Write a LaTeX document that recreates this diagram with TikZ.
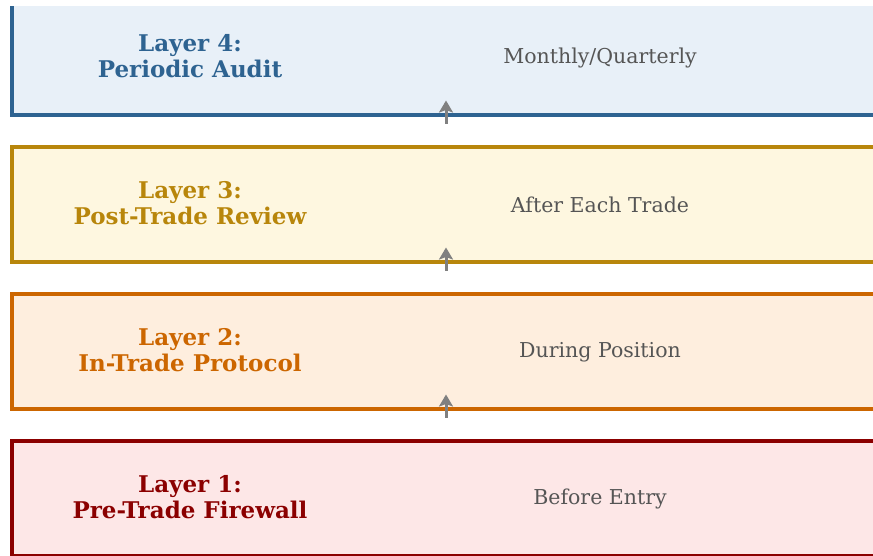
\documentclass[tikz,border=0pt]{standalone}
\usepackage{fontspec}
\setmainfont{DejaVu Serif}
\usetikzlibrary{arrows.meta}
\definecolor{c4b}{HTML}{2E6391}
\definecolor{c4f}{HTML}{E8F0F8}
\definecolor{c3b}{HTML}{B8860B}
\definecolor{c3f}{HTML}{FEF7E0}
\definecolor{c2b}{HTML}{CC6600}
\definecolor{c2f}{HTML}{FEEEDE}
\definecolor{c1b}{HTML}{8B0000}
\definecolor{c1f}{HTML}{FDE7E7}
\definecolor{subc}{HTML}{555555}
\definecolor{arrc}{HTML}{808080}
\tikzset{
  layerbox/.style={draw=#1b, fill=#1f, line width=4pt},
  title/.style={font=\bfseries\fontsize{23}{26}\selectfont, text=#1, align=center, inner sep=0pt},
  sub/.style={font=\fontsize{20.5}{24}\selectfont, text=subc, inner sep=0pt},
  uparrow/.style={draw=arrc, line width=3pt, -{Stealth[length=12pt,width=14pt,inset=2.5pt]}}
}
\begin{document}
\begin{tikzpicture}[x=1pt,y=-1pt]
\useasboundingbox (0,0) rectangle (873,555);
\begin{scope}
\clip (0,6) rectangle (873,555);
\path[layerbox=c4] (11.5,-0.5) rectangle (900,114.5);
\path[layerbox=c3] (11.5,146.5) rectangle (900,261.5);
\path[layerbox=c2] (11.5,293.5) rectangle (900,408.5);
\path[layerbox=c1] (11.5,440.5) rectangle (900,555.5);
\node[title=c4b] (t4) at (190,56) {Layer 4:\\Periodic Audit};
\node[title=c3b] (t3) at (190,203) {Layer 3:\\Post-Trade Review};
\node[title=c2b] (t2) at (190,350) {Layer 2:\\In-Trade Protocol};
\node[title=c1b] (t1) at (190,497) {Layer 1:\\Pre-Trade Firewall};
\node[sub] (s4) at (600,58) {Monthly/Quarterly};
\node[sub] (s3) at (600,205) {After Each Trade};
\node[sub] (s2) at (600,352) {During Position};
\node[sub] (s1) at (600,499) {Before Entry};
\coordinate (a3s) at (446,123.5);
\coordinate (a3e) at (446,100.5);
\coordinate (a2s) at (446,270.5);
\coordinate (a2e) at (446,247.5);
\coordinate (a1s) at (446,417.5);
\coordinate (a1e) at (446,394.5);
\draw[uparrow] (a3s) -- (a3e);
\draw[uparrow] (a2s) -- (a2e);
\draw[uparrow] (a1s) -- (a1e);
\end{scope}
\end{tikzpicture}
\end{document}
